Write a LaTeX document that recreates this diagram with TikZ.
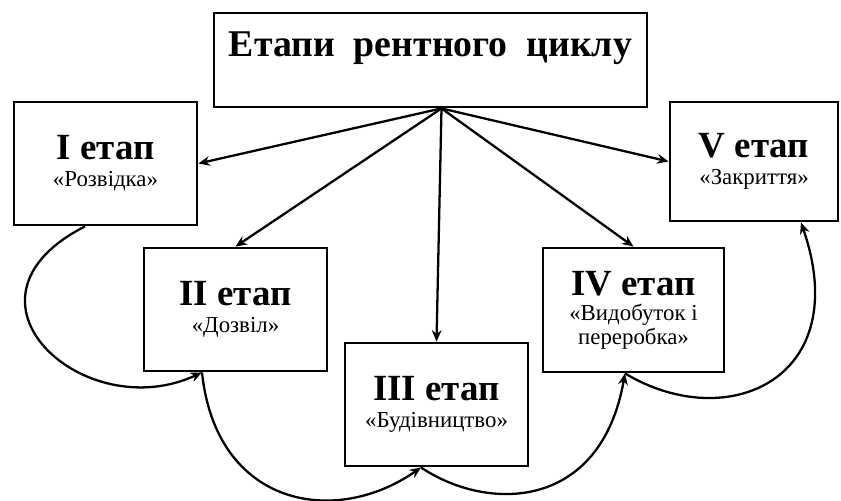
\documentclass[tikz,border=0pt]{standalone}
\usepackage{fontspec}
\setmainfont{Liberation Serif}
\usepackage{tikz}
\usetikzlibrary{calc,arrows.meta}

\newcommand{\stagehead}{\fontsize{21}{22}\selectfont\bfseries}
\newcommand{\stagesub}{\fontsize{13}{13.5}\selectfont}

\begin{document}
\begin{tikzpicture}[
  titlebox/.style={draw, line width=1.6pt, minimum width=8.66cm,
                   minimum height=1.88cm, text depth=0.62cm,
                   font=\fontsize{21.5}{23}\selectfont\bfseries},
  stagebox/.style={draw, line width=1.6pt, minimum width=3.66cm,
                   minimum height=2.46cm, inner sep=2pt, align=center,
                   font=\stagesub},
  arr/.style ={->, >={Stealth[length=6.5pt,width=5.5pt]}, line width=1.3pt},
  cyc/.style ={->, >={Stealth[length=6.5pt,width=5.5pt]}, line width=1.3pt}
]
  \useasboundingbox (0,0) rectangle (16.82,-10.02);

  %% -- title and the five stages --------------------------------------
  \node[titlebox] (cycle) at (8.61,-1.2) {Етапи~~рентного~~циклу};

  \node[stagebox] (st1) at (2.11,-3.27)
    {{\stagehead I етап}\\[2pt]«Розвідка»};
  \node[stagebox] (st2) at (4.71,-6.19)
    {{\stagehead II етап}\\[2pt]«Дозвіл»};
  \node[stagebox] (st3) at (8.73,-8.09)
    {{\stagehead III етап}\\[2pt]«Будівництво»};
  \node[stagebox, minimum width=3.62cm, minimum height=2.48cm] (st4) at (12.67,-6.2)
    {{\stagehead IV етап}\\[1pt]«Видобуток і\\переробка»};
  \node[stagebox, minimum width=3.36cm, minimum height=2.38cm] (st5) at (15.08,-3.23)
    {{\stagehead V етап}\\[2pt]«Закриття»};

  %% -- fan of arrows from the title -------------------------------------
  \coordinate (hub) at ($(cycle.south)+(0.22,0)$);
  \draw[arr] (hub) -- (st1.east);
  \draw[arr] (hub) -- (st2.north);
  \draw[arr] (hub) -- (st3.north);
  \draw[arr] (hub) -- (st4.north);
  \draw[arr] (hub) -- (st5.west);

  %% -- loops from stage to stage along the bottom ----------------------
  \coordinate (b1) at ($(st1.south)+(-0.41,0)$);
  \coordinate (b2) at ($(st2.south)+(-0.67,0)$);
  \coordinate (b3) at ($(st3.south)+(-0.31,0)$);
  \coordinate (b4) at ($(st4.south)+(-0.17,0)$);
  \coordinate (b5) at ($(st5.south)+(0.94,0)$);

  \draw[cyc] (b1) .. controls +(207:3.2) and +(205:2.6) .. (b2);
  \draw[cyc] (b2) .. controls +(276:2.7) and +(215:2.1) .. (b3);
  \draw[cyc] (b3) .. controls +(326:1.6) and +(260:2.8) .. (b4);
  \draw[cyc] (b4) .. controls +(329:2.4) and +(289:3.3) .. (b5);

\end{tikzpicture}
\end{document}
